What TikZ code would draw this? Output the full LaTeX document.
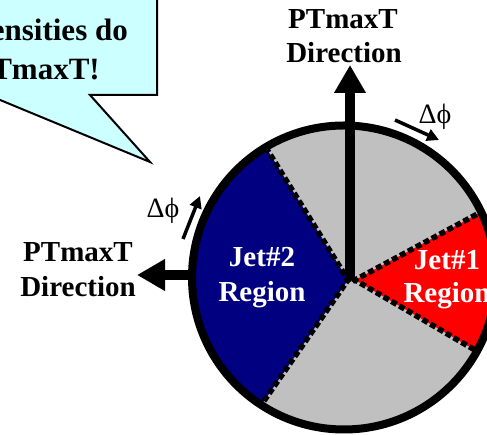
\documentclass[tikz,border=0pt]{standalone}
\usepackage{fontspec}
\setmainfont{Liberation Serif}
\usetikzlibrary{arrows.meta,calc}
\definecolor{callout}{HTML}{CCFFFF}
\definecolor{wedgegray}{HTML}{C0C0C0}
\definecolor{jetblue}{HTML}{000080}
\definecolor{jetred}{HTML}{FF0000}
\tikzset{
  lbl/.style={inner sep=0pt, anchor=base, font=\bfseries\fontsize{29}{34}\selectfont},
  jetlbl/.style={lbl, text=white},
  calltxt/.style={inner sep=0pt, anchor=base east, font=\bfseries\fontsize{31}{38}\selectfont},
  dphi/.style={inner sep=0pt, font=\fontsize{28}{32}\selectfont},
  dotline/.style={line width=5.5pt, line cap=rect, dash pattern=on 0.5pt off 8.5pt},
  bigarrow/.style={line width=10pt, -{Triangle[length=28pt,width=30pt]}},
  smallarrow/.style={line width=3.5pt, -{Triangle[length=12pt,width=12pt]}},
}
\begin{document}
\begin{tikzpicture}[x=1pt,y=1pt]
\useasboundingbox (0,0) rectangle (487,435);
\clip (0,0) rectangle (487,435);
% callout
\draw[fill=callout, line width=2pt, line join=miter]
  (-20,437) -- (157,437) -- (157,340) -- (90,340) -- (150,273) -- (-12,340) -- (-20,340) -- cycle;
\node[calltxt] (c1) at (128,394) {ensities do};
\node[calltxt] (c2) at (100,355) {TmaxT!};
% circle geometry
\coordinate (C) at (344,157.5);
\coordinate (AB) at (348,155);
\coordinate (AR) at (355,155);
\coordinate (B1) at ($(C)+(121:150)$);
\coordinate (B2) at ($(C)+(237:150)$);
\coordinate (R1) at ($(C)+(25.5:150)$);
\coordinate (R2) at ($(C)+(-29:150)$);
\fill[wedgegray] (C) circle[radius=152];
\fill[jetblue] (AB) -- ($(C)+(121:152)$) arc[start angle=121, end angle=237, radius=152] -- cycle;
\fill[jetred] (AR) -- ($(C)+(-29:152)$) arc[start angle=-29, end angle=25.5, radius=152] -- cycle;
\draw[dotline] (AB) -- (B1);
\draw[dotline] (AB) -- (B2);
\draw[dotline] (AR) -- (R1);
\draw[dotline] (AR) -- (R2);
\draw[line width=8pt] (C) circle[radius=152];
% direction arrows
\coordinate (TopTip) at (350,370);
\coordinate (LeftStart) at (192,160);
\coordinate (LeftTip) at (137,160);
\draw[bigarrow] (350,155) -- (TopTip);
\draw[bigarrow] (LeftStart) -- (LeftTip);
% delta phi arrows
\coordinate (d1s) at (395,315);
\coordinate (d1e) at (439,295);
\coordinate (d2s) at (183,196);
\coordinate (d2e) at (200,239);
\draw[smallarrow] (d1s) -- (d1e);
\draw[smallarrow] (d2s) -- (d2e);
\node[dphi] (dp1) at (435,318) {Δϕ};
\node[dphi] (dp2) at (163,224) {Δϕ};
% labels
\node[lbl] (t1) at (343,406) {PTmaxT};
\node[lbl] (t2) at (344,372) {Direction};
\node[lbl] (l1) at (78,173) {PTmaxT};
\node[lbl] (l2) at (78,138) {Direction};
\node[jetlbl] (j2a) at (262,168) {Jet\#2};
\node[jetlbl] (j2b) at (262,133) {Region};
\node[jetlbl] (j1a) at (447,165) {Jet\#1};
\node[jetlbl] (j1b) at (447,132) {Region};
\end{tikzpicture}
\end{document}
